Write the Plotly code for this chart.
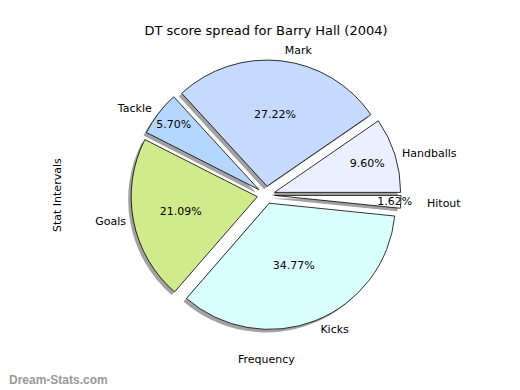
import plotly.graph_objects as go

labels = ["Hitout", "Handballs", "Mark", "Tackle", "Goals", "Kicks"]
values = [1.62, 9.60, 27.22, 5.70, 21.09, 34.77]
colors = ["#FFFFFF", "#EAF0FF", "#C6D9FF", "#B5D7FF", "#D0EA8C", "#D9FFFF"]
title_text = "DT score spread for Barry Hall (2004)"
x_label = "Frequency"
y_label = "Stat Intervals"
watermark = "Dream-Stats.com"

W, H = 520, 390
OFF = 8  # page body margin: figure coords = screen coords - OFF
cx, cy, r = 266 - OFF, 195 - OFF, 135
pull = [0.07] * len(values)
font = "DejaVu Sans"

def px(x):
    return (x - OFF) / W

def py(y):
    return 1 - (y - OFF) / H

def dom(rad, dx=0, dy=0):
    return dict(x=[(cx - rad + dx) / W, (cx + rad + dx) / W],
                y=[1 - (cy + rad + dy) / H, 1 - (cy - rad + dy) / H])

common = dict(labels=labels, values=values, sort=False, direction="counterclockwise",
              rotation=90, pull=pull, hoverinfo="skip")
clear = dict(colors=["rgba(0,0,0,0)"] * len(values), line=dict(width=0))

# label text split: the thin slice's label sits on a wider ring
small = [v < 3 for v in values]
text_main = ["" if s else lab for lab, s in zip(labels, small)]
text_far = [lab if s else "" for lab, s in zip(labels, small)]

fig = go.Figure()
# shadow
fig.add_trace(go.Pie(**common, domain=dom(r, -3, 3),
                     marker=dict(colors=["rgba(100,100,100,0.6)"] * len(values), line=dict(width=0)),
                     textinfo="none"))
# slices with percentages inside
fig.add_trace(go.Pie(**common, domain=dom(r),
                     marker=dict(colors=colors, line=dict(color="black", width=0.8)),
                     texttemplate="%{value:.2f}%", textposition="inside",
                     insidetextorientation="horizontal",
                     insidetextfont=dict(family=font, size=11, color="black")))
# outside labels (transparent rings)
fig.add_trace(go.Pie(**common, domain=dom(r * 1.03), marker=clear,
                     text=text_main, texttemplate="%{text}", textposition="outside",
                     outsidetextfont=dict(family=font, size=11, color="black")))
fig.add_trace(go.Pie(**common, domain=dom(r * 1.17), marker=clear,
                     text=text_far, texttemplate="%{text}", textposition="outside",
                     outsidetextfont=dict(family=font, size=11, color="black")))

fig.update_layout(
    width=W, height=H, margin=dict(l=0, r=0, t=0, b=0),
    paper_bgcolor="white", plot_bgcolor="white", showlegend=False,
    font=dict(family=font, size=11, color="black"),
    uniformtext=dict(minsize=11, mode="show"),
    title=dict(text=title_text, x=px(266), xanchor="center", y=py(30), yanchor="middle",
               font=dict(family=font, size=13, color="black")),
    annotations=[
        dict(text=y_label, x=px(57), y=py(195), xref="paper", yref="paper",
             xanchor="center", yanchor="middle",
             textangle=-90, showarrow=False, font=dict(family=font, size=11)),
        dict(text=x_label, x=px(266), y=py(359), xref="paper", yref="paper",
             xanchor="center", yanchor="middle",
             showarrow=False, font=dict(family=font, size=11)),
        dict(text="<b>" + watermark + "</b>", x=0, y=py(380), xref="paper", yref="paper",
             xanchor="left", yanchor="middle", showarrow=False, borderpad=0,
             font=dict(family="Liberation Sans", size=12, color="#999999")),
    ],
)
fig.write_html("out.html")
